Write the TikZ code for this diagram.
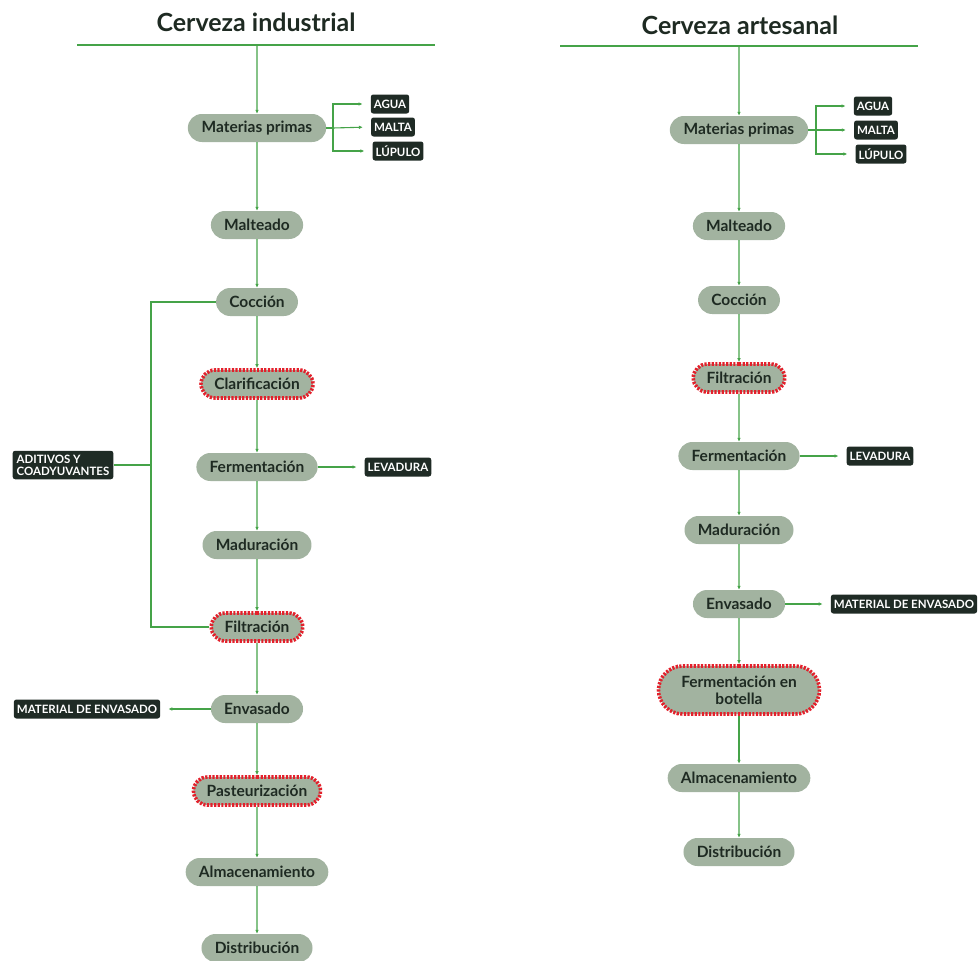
\documentclass[tikz,border=0pt]{standalone}
\usepackage{fontspec}
\setmainfont{Lato}
\usetikzlibrary{shapes.misc,arrows.meta}
\definecolor{stepfill}{HTML}{A2B3A0}
\definecolor{tagfill}{HTML}{1F2B25}
\definecolor{flow}{HTML}{45A348}
\definecolor{warnred}{HTML}{E3202B}
\definecolor{txt}{HTML}{1E2A22}
\tikzset{
  stepbox/.style={rounded rectangle, fill=stepfill, text=txt, font=\bfseries\fontsize{15.5}{17}\selectfont,
    minimum height=28pt, inner xsep=12pt, inner ysep=3pt, align=center},
  critical/.style={stepbox, draw=warnred, line width=3.6pt, dash pattern=on 2.2pt off 1.4pt},
  tagbox/.style={rectangle, rounded corners=2.5pt, fill=tagfill, text=white,
    font=\bfseries\fontsize{11.5}{12}\selectfont, inner xsep=3pt, inner ysep=3pt, minimum height=19pt, align=left},
  titletext/.style={font=\bfseries\fontsize{25}{28}\selectfont, text=txt},
  flowline/.style={draw=flow, line width=1.1pt},
  flowarrow/.style={flowline, -{Latex[length=4pt,width=3.6pt]}},
}
\begin{document}
\begin{tikzpicture}[x=1pt,y=-1pt]
\useasboundingbox (0,0) rectangle (978,961);

% ---------------- Cerveza industrial ----------------
\node[titletext] (tI) at (256,22) {Cerveza industrial};
\coordinate (lI1) at (77,45);
\coordinate (lI2) at (435,45);
\coordinate (topI) at (257,45);
\draw[flowline] (lI1) -- (lI2);

\node[stepbox] (mpI) at (257,128) {Materias primas};
\node[stepbox] (malI) at (257,225) {Malteado};
\node[stepbox] (cocI) at (257,302) {Cocción};
\node[critical] (claI) at (257,384) {Clarificación};
\node[stepbox] (ferI) at (257,467) {Fermentación};
\node[stepbox] (madI) at (257,545) {Maduración};
\node[critical] (filI) at (257,627) {Filtración};
\node[stepbox] (envI) at (257,709) {Envasado};
\node[critical] (pasI) at (257,791) {Pasteurización};
\node[stepbox] (almI) at (257,872) {Almacenamiento};
\node[stepbox] (disI) at (257,948) {Distribución};

\node[tagbox] (aguaI) at (390,104) {AGUA};
\node[tagbox] (maltaI) at (393,127) {MALTA};
\node[tagbox] (lupI) at (398,151) {LÚPULO};
\node[tagbox] (levI) at (398,467) {LEVADURA};
\node[tagbox] (matI) at (87,709) {MATERIAL DE ENVASADO};
\node[tagbox, inner ysep=4pt, inner xsep=4pt] (aditI) at (63,465) {ADITIVOS Y\\COADYUVANTES};

\draw[flowarrow] (topI) -- (mpI);
\draw[flowarrow] (mpI) -- (malI);
\draw[flowarrow] (malI) -- (cocI);
\draw[flowarrow] (cocI) -- (claI);
\draw[flowarrow] (claI) -- (ferI);
\draw[flowarrow] (ferI) -- (madI);
\draw[flowarrow] (madI) -- (filI);
\draw[flowarrow] (filI) -- (envI);
\draw[flowarrow] (envI) -- (pasI);
\draw[flowarrow] (pasI) -- (almI);
\draw[flowarrow] (almI) -- (disI);

% raw materials bracket
\coordinate (brI) at (333,128);
\draw[flowline] (mpI.east) -- (brI);
\draw[flowarrow, shorten >=8pt] (brI) |- (aguaI.west);
\draw[flowarrow, shorten >=8pt] (brI) -- (maltaI.west);
\draw[flowarrow, shorten >=8pt] (brI) |- (lupI.west);

\draw[flowarrow, shorten >=8pt] (ferI.east) -- (levI.west);
\draw[flowarrow, shorten >=8pt] (envI.west) -- (matI.east);

% additives bracket
\coordinate (adI) at (151,465);
\draw[flowline] (aditI.east) -- (adI);
\draw[flowline] (cocI.west) -| (adI);
\draw[flowline] (filI.west) -| (adI);

% ---------------- Cerveza artesanal ----------------
\node[titletext] (tA) at (740,25) {Cerveza artesanal};
\coordinate (lA1) at (560,46);
\coordinate (lA2) at (918,46);
\coordinate (topA) at (739,46);
\draw[flowline] (lA1) -- (lA2);

\node[stepbox] (mpA) at (739,130) {Materias primas};
\node[stepbox] (malA) at (739,226) {Malteado};
\node[stepbox] (cocA) at (739,300) {Cocción};
\node[critical] (filA) at (739,378) {Filtración};
\node[stepbox] (ferA) at (739,456) {Fermentación};
\node[stepbox] (madA) at (739,530) {Maduración};
\node[stepbox] (envA) at (739,604) {Envasado};
\node[critical, minimum height=48pt, inner xsep=18pt] (botA) at (739,690) {Fermentación en\\botella};
\node[stepbox] (almA) at (739,778) {Almacenamiento};
\node[stepbox] (disA) at (739,852) {Distribución};

\node[tagbox] (aguaA) at (873,106) {AGUA};
\node[tagbox] (maltaA) at (876,130) {MALTA};
\node[tagbox] (lupA) at (881,154) {LÚPULO};
\node[tagbox] (levA) at (880,456) {LEVADURA};
\node[tagbox] (matA) at (904,604) {MATERIAL DE ENVASADO};

\draw[flowarrow] (topA) -- (mpA);
\draw[flowarrow] (mpA) -- (malA);
\draw[flowarrow] (malA) -- (cocA);
\draw[flowarrow] (cocA) -- (filA);
\draw[flowarrow] (filA) -- (ferA);
\draw[flowarrow] (ferA) -- (madA);
\draw[flowarrow] (madA) -- (envA);
\draw[flowarrow] (envA) -- (botA);
\draw[flowarrow] (botA) -- (almA);
\draw[flowarrow] (almA) -- (disA);

\coordinate (brA) at (816,130);
\draw[flowline] (mpA.east) -- (brA);
\draw[flowarrow, shorten >=8pt] (brA) |- (aguaA.west);
\draw[flowarrow, shorten >=8pt] (brA) -- (maltaA.west);
\draw[flowarrow, shorten >=8pt] (brA) |- (lupA.west);

\draw[flowarrow, shorten >=8pt] (ferA.east) -- (levA.west);
\draw[flowarrow, shorten >=8pt] (envA.east) -- (matA.west);
\end{tikzpicture}
\end{document}
